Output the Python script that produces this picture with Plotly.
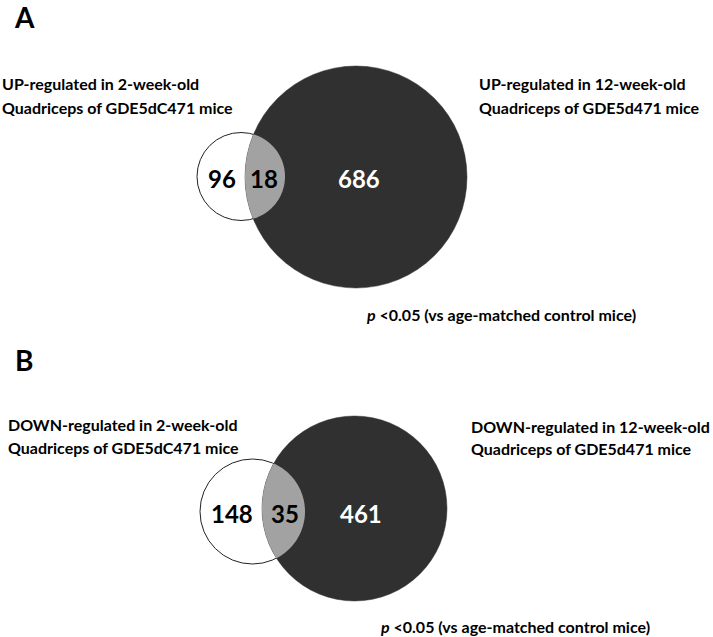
import numpy as np
import plotly.graph_objects as go

# ---------------- data ----------------
panel_letters = ["A", "B"]
only_2wk = [96, 148]
shared = [18, 35]
only_12wk = [686, 461]
left_labels = [
    ["UP-regulated in 2-week-old", "Quadriceps of GDE5dC471 mice"],
    ["DOWN-regulated in 2-week-old", "Quadriceps of GDE5dC471 mice"],
]
right_labels = [
    ["UP-regulated in 12-week-old", "Quadriceps of GDE5d471 mice"],
    ["DOWN-regulated in 12-week-old", "Quadriceps of GDE5d471 mice"],
]
p_note = "<i>p</i> &lt;0.05 (vs age-matched control mice)"

# ---------------- layout geometry (pixels) ----------------
W, H = 713, 637
geom = [
    dict(small=(241, 176.5, 44), big=(356, 177, 111),
         letter=(24, 17), left=(0, 83, 107), right=(477, 83, 107), p=(364, 314),
         n_small=(222, 178), n_shared=(263.5, 178), n_big=(358.5, 178)),
    dict(small=(252.5, 511.5, 52.5), big=(354.5, 508.5, 92.5),
         letter=(24, 360), left=(6, 424.5, 447), right=(469, 426.5, 448.5), p=(378, 626),
         n_small=(231.5, 513), n_shared=(285, 513), n_big=(361, 513)),
]
DARK = "#303030"
GREY = "#a2a2a2"
FONT = "Lato"
LABEL_SIZE = 16


def lens_path(c1, c2):
    x1, y1, r1 = c1
    x2, y2, r2 = c2
    d = np.hypot(x2 - x1, y2 - y1)
    ang = np.arctan2(y2 - y1, x2 - x1)
    a = (d**2 + r1**2 - r2**2) / (2 * d)
    t1 = np.arccos(a / r1)
    t2 = np.arccos((d - a) / r2)
    th1 = np.linspace(ang - t1, ang + t1, 80)
    th2 = np.linspace(ang + np.pi - t2, ang + np.pi + t2, 80)
    pts = [(x1 + r1 * np.cos(t), y1 + r1 * np.sin(t)) for t in th1]
    pts += [(x2 + r2 * np.cos(t), y2 + r2 * np.sin(t)) for t in th2]
    return "M " + " L ".join(f"{x:.2f},{y:.2f}" for x, y in pts) + " Z"


fig = go.Figure()
shapes = []
annotations = []


def add_text(x, y, txt, size, color="black", xanchor="center"):
    annotations.append(dict(x=x, y=y, xref="x", yref="y", text=txt,
                            showarrow=False, xanchor=xanchor, yanchor="middle",
                            font=dict(family=FONT, size=size, color=color)))


for i, g in enumerate(geom):
    sx, sy, sr = g["small"]
    bx, by, br = g["big"]
    shapes.append(dict(type="circle", xref="x", yref="y",
                       x0=sx - sr, x1=sx + sr, y0=sy - sr, y1=sy + sr,
                       fillcolor="white", line=dict(color="#222222", width=1)))
    shapes.append(dict(type="circle", xref="x", yref="y",
                       x0=bx - br, x1=bx + br, y0=by - br, y1=by + br,
                       fillcolor=DARK, line=dict(color=DARK, width=0.5)))
    shapes.append(dict(type="path", xref="x", yref="y",
                       path=lens_path(g["small"], g["big"]),
                       fillcolor=GREY, line=dict(width=0)))

    add_text(*g["letter"], f"<b>{panel_letters[i]}</b>", 28)
    lx, ly1, ly2 = g["left"]
    add_text(lx, ly1, f"<b>{left_labels[i][0]}</b>", LABEL_SIZE, xanchor="left")
    add_text(lx, ly2, f"<b>{left_labels[i][1]}</b>", LABEL_SIZE, xanchor="left")
    rx, ry1, ry2 = g["right"]
    add_text(rx, ry1, f"<b>{right_labels[i][0]}</b>", LABEL_SIZE, xanchor="left")
    add_text(rx, ry2, f"<b>{right_labels[i][1]}</b>", LABEL_SIZE, xanchor="left")
    add_text(g["p"][0], g["p"][1], f"<b>{p_note}</b>", LABEL_SIZE, xanchor="left")
    add_text(*g["n_small"], f"<b>{only_2wk[i]}</b>", 24)
    add_text(*g["n_shared"], f"<b>{shared[i]}</b>", 24)
    add_text(*g["n_big"], f"<b>{only_12wk[i]}</b>", 24, color="white")

fig.update_layout(
    width=W, height=H,
    margin=dict(l=0, r=0, t=0, b=0),
    paper_bgcolor="white", plot_bgcolor="white",
    xaxis=dict(range=[0, W], visible=False, fixedrange=True),
    yaxis=dict(range=[H, 0], visible=False, fixedrange=True),
    shapes=shapes, annotations=annotations, showlegend=False,
)
fig.write_html(
    "out.html",
    config={"displayModeBar": False},
    post_script="document.body.style.margin='0';document.body.style.overflow='hidden';",
)
